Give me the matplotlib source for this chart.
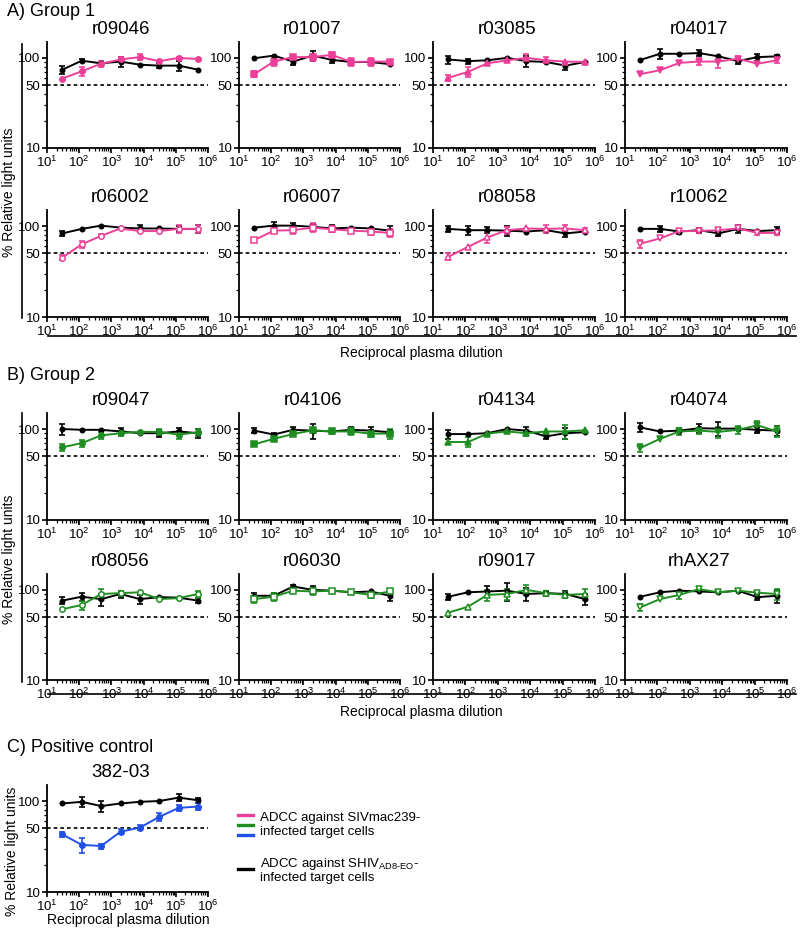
import numpy as np
import matplotlib
matplotlib.use('Agg')
import matplotlib.pyplot as plt
from matplotlib.lines import Line2D
from matplotlib.ticker import (FixedLocator, FixedFormatter, LogLocator,
                               NullFormatter, LogFormatterMathtext)

plt.rcParams['font.family'] = ['Liberation Sans', 'DejaVu Sans']
plt.rcParams['mathtext.fontset'] = 'custom'
plt.rcParams['mathtext.rm'] = 'Liberation Sans'
plt.rcParams['mathtext.it'] = 'Liberation Sans:italic'
plt.rcParams['mathtext.bf'] = 'Liberation Sans:bold'
plt.rcParams['mathtext.default'] = 'regular'

# ---------------- data ----------------
dilution = [30, 120, 480, 1920, 7680, 30720, 122880, 491520]

# Group 1 (SIVmac239 = pink, SHIV = black)
r09046_siv = [59, 71, 86, 96, 102, 92, 100, 97]
r09046_siv_err = [0, 8, 6, 7, 7, 0, 3, 0]
r09046_shiv = [74, 93, 87, 91, 84, 82, 82, 74]
r09046_shiv_err = [8, 4, 0, 12, 0, 5, 11, 0]

r01007_siv = [66, 91, 102, 102, 108, 90, 91, 91]
r01007_siv_err = [5, 10, 0, 9, 7, 9, 9, 0]
r01007_shiv = [99, 106, 91, 106, 95, 90, 90, 85]
r01007_shiv_err = [0, 0, 8, 13, 7, 0, 0, 0]

r03085_siv = [60, 70, 87, 94, 100, 94, 91, 90]
r03085_siv_err = [4, 9, 0, 0, 9, 7, 0, 0]
r03085_shiv = [96, 92, 94, 100, 92, 90, 82, 90]
r03085_shiv_err = [10, 6, 0, 0, 12, 0, 8, 0]

r04017_siv = [66, 73, 88, 91, 91, 98, 86, 94]
r04017_siv_err = [0, 0, 0, 8, 13, 7, 0, 7]
r04017_shiv = [95, 111, 111, 113, 104, 92, 102, 104]
r04017_shiv_err = [0, 15, 0, 9, 0, 7, 9, 4]

r06002_siv = [45, 63, 78, 94, 88, 88, 93, 93]
r06002_siv_err = [3, 5, 3, 0, 0, 0, 9, 10]
r06002_shiv = [83, 93, 101, 96, 94, 94, 93, 93]
r06002_shiv_err = [6, 0, 0, 0, 9, 0, 7, 9]

r06007_siv = [70, 89, 90, 96, 92, 89, 87, 84]
r06007_siv_err = [3, 6, 9, 11, 7, 0, 7, 8]
r06007_shiv = [96, 101, 101, 98, 94, 96, 94, 89]
r06007_shiv_err = [0, 9, 7, 7, 9, 0, 0, 10]

r08058_siv = [46, 59, 75, 90, 94, 93, 94, 90]
r08058_siv_err = [4, 0, 10, 8, 0, 10, 9, 6]
r08058_shiv = [93, 90, 90, 89, 87, 90, 83, 87]
r08058_shiv_err = [7, 11, 7, 11, 0, 0, 8, 0]

r10062_siv = [64, 73, 88, 88, 90, 94, 84, 84]
r10062_siv_err = [6, 0, 4, 4, 0, 4, 4, 4]
r10062_shiv = [93, 93, 87, 90, 83, 93, 88, 90]
r10062_shiv_err = [0, 6, 6, 6, 6, 10, 0, 8]

# Group 2 (SIVmac239 = green, SHIV = black)
r09047_siv = [63, 70, 85, 90, 93, 93, 87, 92]
r09047_siv_err = [6, 6, 8, 6, 0, 6, 9, 8]
r09047_shiv = [100, 98, 98, 94, 90, 90, 94, 90]
r09047_shiv_err = [13, 0, 0, 9, 0, 8, 9, 10]

r04106_siv = [68, 78, 88, 97, 94, 94, 89, 89]
r04106_siv_err = [0, 0, 0, 0, 6, 8, 8, 12]
r04106_shiv = [96, 87, 98, 96, 94, 98, 96, 92]
r04106_shiv_err = [6, 4, 7, 18, 0, 7, 10, 6]

r04134_siv = [72, 72, 89, 94, 90, 94, 94, 97]
r04134_siv_err = [0, 9, 0, 0, 6, 0, 16, 0]
r04134_shiv = [88, 88, 90, 100, 96, 83, 90, 92]
r04134_shiv_err = [10, 0, 0, 0, 8, 6, 13, 0]

r04074_siv = [62, 78, 94, 96, 93, 98, 110, 94]
r04074_siv_err = [6, 0, 8, 7, 13, 9, 12, 13]
r04074_shiv = [104, 94, 96, 102, 101, 101, 98, 96]
r04074_shiv_err = [11, 0, 0, 11, 18, 0, 7, 13]

r08056_siv = [61, 68, 90, 92, 94, 79, 81, 90]
r08056_siv_err = [0, 8, 12, 6, 0, 0, 0, 8]
r08056_shiv = [76, 84, 79, 90, 79, 83, 82, 76]
r08056_shiv_err = [7, 9, 12, 8, 9, 0, 0, 5]

r06030_siv = [79, 84, 98, 96, 98, 94, 88, 96]
r06030_siv_err = [7, 9, 0, 8, 0, 0, 6, 6]
r06030_shiv = [86, 86, 109, 100, 98, 94, 96, 86]
r06030_shiv_err = [6, 6, 4, 9, 0, 0, 0, 10]

r09017_siv = [56, 65, 88, 90, 100, 92, 88, 90]
r09017_siv_err = [0, 0, 12, 12, 13, 6, 6, 12]
r09017_shiv = [84, 94, 96, 98, 90, 92, 90, 79]
r09017_shiv_err = [6, 0, 13, 22, 15, 6, 8, 11]

rhAX27_siv = [64, 79, 88, 102, 94, 98, 93, 90]
rhAX27_siv_err = [5, 0, 8, 6, 0, 0, 0, 12]
rhAX27_shiv = [84, 94, 98, 96, 94, 98, 83, 86]
rhAX27_shiv_err = [0, 0, 0, 0, 0, 0, 6, 14]

# Positive control (SIVmac239 = blue, SHIV = black)
pc38203_siv = [43, 33, 32, 46, 51, 67, 84, 87]
pc38203_siv_err = [3, 6, 2, 3, 3, 6, 6, 7]
pc38203_shiv = [94, 98, 88, 94, 98, 100, 109, 102]
pc38203_shiv_err = [0, 13, 12, 0, 0, 0, 9, 7]

group1_names = ['r09046', 'r01007', 'r03085', 'r04017',
                'r06002', 'r06007', 'r08058', 'r10062']
group2_names = ['r09047', 'r04106', 'r04134', 'r04074',
                'r08056', 'r06030', 'r09017', 'rhAX27']

PINK = '#EC3F97'
GREEN = '#1F8E22'
BLUE = '#2050E6'

# ---------------- layout helpers ----------------
W, H = 800, 930
fig = plt.figure(figsize=(W / 100, H / 100), dpi=100)


def fx(px):
    return px / W


def fy(py):
    return 1 - py / H


def add_ax(left, top, right, bottom):
    return fig.add_axes([fx(left), fy(bottom), (right - left) / W, (bottom - top) / H])


def plot_series(ax, x, y, e, color, marker, filled, ms):
    y = np.asarray(y, float)
    e = np.asarray(e, float)
    m = e > 0
    ax.errorbar(x[m], y[m], yerr=e[m], fmt='none', ecolor=color,
                elinewidth=1.2, capsize=2.3, capthick=1.2, zorder=3)
    ax.plot(x, y, color=color, lw=1.4, marker=marker, ms=ms,
            mfc=color if filled else 'white', mec=color, mew=1.1, zorder=4)


def panel(ax, title, siv, siv_err, shiv, shiv_err, color, marker, filled):
    x = np.asarray(dilution, float)
    ax.set_xscale('log')
    ax.set_yscale('log')
    ax.axhline(50, color='black', lw=1.2, ls=(0, (2.2, 1.8)), zorder=1)
    plot_series(ax, x, shiv, shiv_err, 'black', 'o', True, 3.2)
    plot_series(ax, x, siv, siv_err, color, marker, filled, 3.9)
    ax.set_xlim(10, 1e6)
    ax.set_ylim(10, 150)
    for s in ('top', 'right'):
        ax.spines[s].set_visible(False)
    for s in ('left', 'bottom'):
        ax.spines[s].set_linewidth(1.3)
    ax.yaxis.set_major_locator(FixedLocator([10, 50, 100]))
    ax.yaxis.set_major_formatter(FixedFormatter(['10', '50', '100']))
    ax.yaxis.set_minor_locator(LogLocator(base=10, subs=np.arange(2, 10), numticks=20))
    ax.yaxis.set_minor_formatter(NullFormatter())
    ax.xaxis.set_major_locator(LogLocator(base=10, numticks=10))
    ax.xaxis.set_major_formatter(LogFormatterMathtext())
    ax.xaxis.set_minor_locator(LogLocator(base=10, subs=np.arange(2, 10), numticks=20))
    ax.xaxis.set_minor_formatter(NullFormatter())
    ax.tick_params(which='major', direction='out', length=3.5, width=1.2,
                   labelsize=9.5, pad=1.2)
    ax.tick_params(which='minor', direction='out', length=2, width=0.9)
    ax.annotate(title, xy=(0.5, 1), xycoords='axes fraction',
                xytext=(-5, 9), textcoords='offset points',
                ha='center', va='center', fontsize=13.5)


cols = [(47, 208), (239, 400), (433, 595), (625, 787)]
rows = [(42, 148), (210, 317), (413, 520), (574, 680)]
markers = [('o', True), ('s', True), ('^', True), ('v', True),
           ('o', False), ('s', False), ('^', False), ('v', False)]

g = globals()
for gi, (names, color, rpair) in enumerate([(group1_names, PINK, rows[0:2]),
                                            (group2_names, GREEN, rows[2:4])]):
    for i, name in enumerate(names):
        r, c = divmod(i, 4)
        top, bottom = rpair[r]
        left, right = cols[c]
        ax = add_ax(left, top, right, bottom)
        mk, filled = markers[i]
        panel(ax, name, g[name + '_siv'], g[name + '_siv_err'],
              g[name + '_shiv'], g[name + '_shiv_err'], color, mk, filled)

# positive control
ax = add_ax(47, 785, 208, 892)
panel(ax, '382-03', pc38203_siv, pc38203_siv_err, pc38203_shiv,
      pc38203_shiv_err, BLUE, 'o', True)

# ---------------- group decorations ----------------
fig.text(fx(7), fy(12), 'A) Group 1', fontsize=13, ha='left', va='center')
fig.text(fx(7), fy(375), 'B) Group 2', fontsize=13, ha='left', va='center')
fig.text(fx(7), fy(747), 'C) Positive control', fontsize=13, ha='left', va='center')

for (ytop, ybot, yc, hline_y, xl_y) in [(44, 318, 192, 336, 353), (413, 682, 559, 694, 712)]:
    fig.add_artist(Line2D([fx(22), fx(22)], [fy(ytop), fy(ybot)], color='black', lw=1.2))
    fig.text(fx(9), fy(yc), '% Relative light units', rotation=90,
             fontsize=10, ha='center', va='center')
    fig.add_artist(Line2D([fx(48), fx(796)], [fy(hline_y), fy(hline_y)], color='black', lw=1.2))
    fig.text(fx(421), fy(xl_y), 'Reciprocal plasma dilution', fontsize=10,
             ha='center', va='center')

fig.text(fx(12), fy(851), '% Relative light units', rotation=90,
         fontsize=10, ha='center', va='center')
fig.text(fx(128), fy(920), 'Reciprocal plasma dilution', fontsize=10,
         ha='center', va='center')

# ---------------- legend ----------------
for yy, col in [(815, PINK), (825, GREEN), (835, BLUE), (869, 'black')]:
    fig.add_artist(Line2D([fx(238), fx(253)], [fy(yy), fy(yy)], color=col, lw=2.4))
fig.text(fx(260), fy(818), 'ADCC against SIVmac239-', fontsize=9.5, ha='left', va='center')
fig.text(fx(260), fy(832), 'infected target cells', fontsize=9.5, ha='left', va='center')
fig.text(fx(260), fy(864), r'ADCC against SHIV$_{\text{AD8-EO}}$-', fontsize=9.5,
         ha='left', va='center')
fig.text(fx(260), fy(878), 'infected target cells', fontsize=9.5, ha='left', va='center')

fig.savefig('out.png', dpi=100)
